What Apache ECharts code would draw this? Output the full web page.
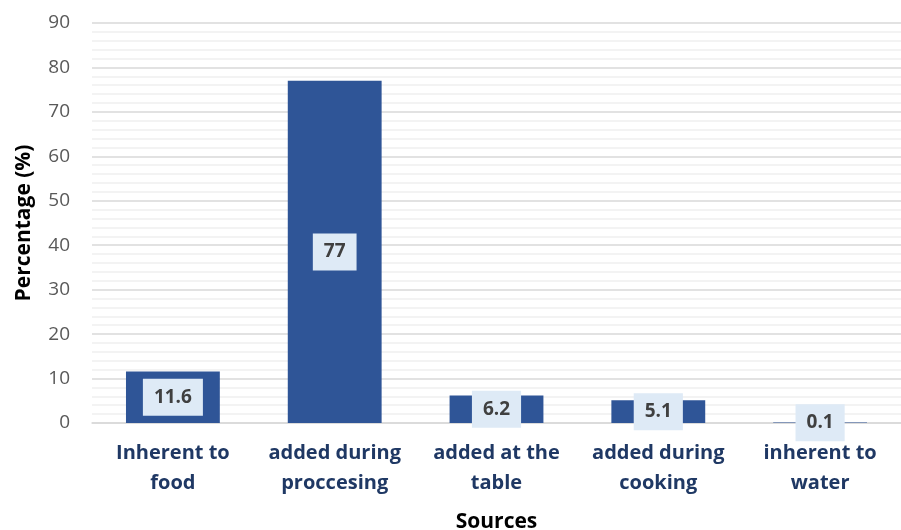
<!DOCTYPE html>
<html><head><meta charset="utf-8">
<script src="https://cdn.jsdelivr.net/npm/echarts@6/dist/echarts.min.js"></script>
<style>html,body{margin:0;padding:0;background:#fff}#c{width:901px;height:530px}</style>
</head><body><div id="c"></div>
<script>
const categories = ["Inherent to\nfood", "added during\nproccesing", "added at the\ntable", "added during\ncooking", "inherent to\nwater"];
const values = [11.6, 77, 6.2, 5.1, 0.1];
const yAxisTitle = "Percentage (%)";
const xAxisTitle = "Sources";
const FONT = "'Open Sans', sans-serif";
const chart = echarts.init(document.getElementById('c'), null, {renderer: 'canvas'});
chart.setOption({
  animation: false,
  grid: {left: 92, right: 0, top: 23, bottom: 107, containLabel: false, outerBoundsMode: 'none'},
  xAxis: {
    type: 'category', data: categories,
    name: xAxisTitle, nameLocation: 'middle', nameGap: 89,
    nameTextStyle: {fontFamily: FONT, fontSize: 21, fontWeight: 'bold', color: '#000'},
    axisLine: {show: true, lineStyle: {color: '#D9D9D9', width: 1.5}},
    axisTick: {show: false},
    axisLabel: {interval: 0, margin: 15, fontFamily: FONT, fontSize: 20, fontWeight: 'bold', color: '#1F3864', lineHeight: 30}
  },
  yAxis: {
    type: 'value', min: 0, max: 90, interval: 10,
    name: yAxisTitle, nameLocation: 'middle', nameGap: 57,
    nameTextStyle: {fontFamily: FONT, fontSize: 21, fontWeight: 'bold', color: '#000'},
    axisLine: {show: false}, axisTick: {show: false},
    axisLabel: {margin: 22, fontFamily: FONT, fontSize: 19, color: '#595959'},
    splitLine: {lineStyle: {color: '#D9D9D9', width: 1.5}},
    minorTick: {show: false, splitNumber: 5},
    minorSplitLine: {show: true, lineStyle: {color: '#F0F0F0', width: 1.5}}
  },
  series: [{
    type: 'bar', data: values, barWidth: '58%',
    itemStyle: {color: '#2F5597'},
    label: {
      show: true, position: 'inside',
      fontFamily: FONT, fontSize: 19, fontWeight: 'bold', color: '#404040',
      backgroundColor: '#DEEAF6', padding: [10, 11, 8, 11]
    }
  }]
});
</script></body></html>
